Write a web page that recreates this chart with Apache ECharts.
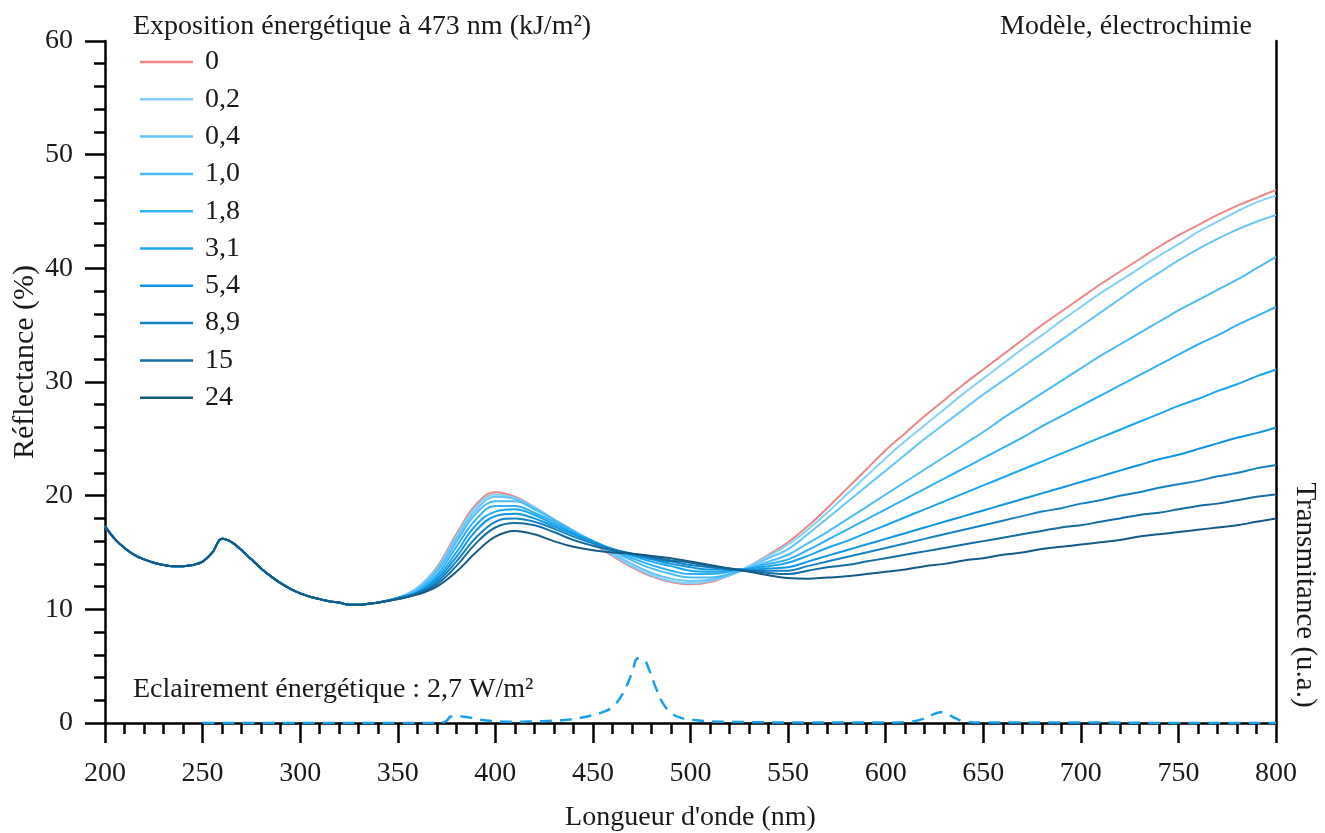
<!DOCTYPE html>
<html><head><meta charset="utf-8">
<script src="https://cdn.jsdelivr.net/npm/echarts@6/dist/echarts.min.js"></script>
<style>html,body{margin:0;padding:0;background:#fff}#c{width:1325px;height:833px}</style>
</head><body><div id="c"></div>
<script>
// Wavelengths (nm): 200..340 step 5, then 350..800 step 10
const wavelengths = [200,205,210,215,220,225,230,235,240,245,250,255,260,265,270,275,280,285,290,295,300,305,310,315,320,325,330,335,340,
  350,360,370,380,390,400,410,420,430,440,450,460,470,480,490,500,510,520,530,540,550,
  560,570,580,590,600,610,620,630,640,650,660,670,680,690,700,710,720,730,740,750,760,770,780,790,800];

// Shared UV part (200..340 nm), identical for all exposures
const uvCommon = [17.3,16.2,15.4,14.8,14.4,14.1,13.9,13.8,13.8,13.9,14.2,15.0,16.2,15.9,15.2,14.4,13.6,12.9,12.3,11.8,11.4,11.1,10.9,10.7,10.6,10.4,10.4,10.5,10.6];

// Reflectance (%) 350..800 nm for each exposure
const r0  = [11.0,11.9,13.7,16.6,19.2,20.3,19.9,19.0,17.9,16.9,15.8,14.7,13.7,12.9,12.4,12.2,12.4,13.0,13.8,14.8,15.9, 17.3,18.9,20.6,22.3,24.0,25.5,27.0,28.4,29.8,31.1,32.4,33.7,35.0,36.2,37.4,38.6,39.7,40.8,41.9,42.9,43.8,44.7,45.5,46.2,46.9];
const r02 = [11.0,11.9,13.6,16.4,19.0,20.1,19.8,19.0,17.9,16.9,15.9,14.8,13.8,13.0,12.5,12.3,12.5,13.0,13.8,14.7,15.7, 17.0,18.5,20.1,21.7,23.3,24.8,26.2,27.6,29.0,30.3,31.6,32.9,34.1,35.4,36.6,37.8,38.9,40.0,41.1,42.1,43.2,44.1,45.0,45.8,46.4];
const r04 = [11.0,11.8,13.5,16.2,18.7,19.9,19.7,18.9,17.9,16.9,15.9,14.9,14.0,13.2,12.7,12.5,12.6,13.0,13.7,14.5,15.3, 16.6,18.0,19.4,20.8,22.2,23.6,25.0,26.3,27.6,28.9,30.1,31.3,32.5,33.7,34.9,36.1,37.3,38.5,39.6,40.7,41.7,42.6,43.4,44.1,44.7];
const r10 = [11.0,11.7,13.3,15.9,18.4,19.5,19.5,18.8,17.9,16.9,16.0,15.1,14.3,13.6,13.1,12.8,12.8,13.1,13.6,14.2,14.8, 15.8,16.8,17.9,19.0,20.1,21.2,22.3,23.4,24.5,25.6,26.8,27.9,29.0,30.1,31.2,32.3,33.3,34.3,35.3,36.3,37.2,38.1,39.0,40.0,41.0];
const r18 = [11.0,11.6,13.0,15.5,17.9,19.1,19.1,18.5,17.7,16.8,16.0,15.2,14.5,13.9,13.4,13.1,13.1,13.3,13.6,14.0,14.4, 15.2,16.1,17.0,17.9,18.8,19.7,20.6,21.5,22.4,23.3,24.2,25.1,26.1,27.0,27.9,28.8,29.7,30.6,31.5,32.4,33.3,34.1,35.0,35.8,36.6];
const r31 = [11.0,11.5,12.8,15.0,17.4,18.6,18.8,18.3,17.5,16.7,16.0,15.3,14.7,14.2,13.8,13.4,13.3,13.4,13.6,13.8,14.1, 14.7,15.4,16.0,16.7,17.4,18.1,18.8,19.5,20.2,20.9,21.6,22.3,23.0,23.7,24.4,25.1,25.8,26.5,27.2,27.9,28.5,29.2,29.8,30.5,31.1];
const r54 = [11.0,11.5,12.6,14.6,16.9,18.2,18.4,18.0,17.3,16.6,15.9,15.3,14.8,14.4,14.0,13.7,13.5,13.5,13.5,13.6,13.7, 14.2,14.7,15.2,15.7,16.2,16.7,17.2,17.7,18.2,18.7,19.2,19.7,20.2,20.7,21.2,21.7,22.2,22.7,23.2,23.6,24.1,24.6,25.1,25.5,26.0];
const r89 = [10.9,11.4,12.4,14.2,16.3,17.7,18.0,17.7,17.1,16.4,15.8,15.3,14.9,14.5,14.2,13.9,13.7,13.5,13.4,13.4,13.4, 13.8,14.2,14.6,15.0,15.4,15.8,16.2,16.6,17.0,17.4,17.8,18.2,18.6,18.9,19.3,19.6,20.0,20.3,20.7,21.0,21.3,21.7,22.0,22.4,22.7];
const r15 = [10.9,11.4,12.2,13.8,15.8,17.2,17.6,17.4,16.8,16.1,15.6,15.2,14.9,14.6,14.3,14.1,13.8,13.6,13.4,13.2,13.1, 13.4,13.7,13.9,14.2,14.5,14.8,15.1,15.4,15.7,16.0,16.3,16.6,16.9,17.2,17.4,17.7,18.0,18.3,18.5,18.8,19.1,19.3,19.6,19.9,20.1];
const r24 = [10.9,11.3,12.0,13.3,15.0,16.4,16.9,16.6,16.0,15.5,15.2,15.0,14.9,14.7,14.5,14.2,13.9,13.6,13.3,13.0,12.75, 12.7,12.8,12.9,13.1,13.3,13.5,13.8,14.0,14.3,14.5,14.8,15.0,15.3,15.5,15.7,15.9,16.1,16.4,16.6,16.8,17.0,17.2,17.4,17.7,18.0];

const exposureNames = ['0','0,2','0,4','1,0','1,8','3,1','5,4','8,9','15','24'];
const reflectance = [r0,r02,r04,r10,r18,r31,r54,r89,r15,r24];
const colors = ['#ee8686','#84d0fb','#66c5f9','#4cbbf8','#33b0f6','#1aa6f3','#0f95e2','#1682c4','#166da2','#155b86'];

// Illumination transmittance (arbitrary units, drawn on the right axis)
const tWl  = [250,300,350,372,375,377,380,384,388,392,400,410,420,430,440,445,450,455,460,465,470,473,476,479,482,486,490,495,500,510,520,550,600,612,618,623,628,632,636,640,650,700,750,800];
const tVal = [0,0,0,0,0.2,0.55,0.6,0.55,0.45,0.3,0.15,0.1,0.15,0.2,0.35,0.5,0.7,0.95,1.4,2.5,4.4,5.7,5.6,4.6,3.2,1.7,0.9,0.45,0.3,0.15,0.1,0.05,0.05,0.1,0.3,0.65,0.95,0.75,0.4,0.15,0.05,0.05,0,0];

const FONT = 'Liberation Serif';
const TXT = '#1a1a1a';
const chart = echarts.init(document.getElementById('c'));

const series = reflectance.map((vals, i) => ({
  name: exposureNames[i],
  type: 'line',
  yAxisIndex: 0,
  symbol: 'none',
  smooth: 0.4,
  animation: false,
  z: 2 + i,
  data: wavelengths.map((w, k) => [w, k < uvCommon.length ? uvCommon[k] : vals[k - uvCommon.length]]),
  lineStyle: { width: 2, color: colors[i] },
  itemStyle: { color: colors[i] }
}));
series.push({
  name: 'Transmitance',
  type: 'line',
  yAxisIndex: 1,
  symbol: 'none',
  smooth: 0.4,
  animation: false,
  z: 1,
  data: tWl.map((w, k) => [w, tVal[k]]),
  lineStyle: { width: 2.5, color: '#1a9fec', type: [12, 8] },
  itemStyle: { color: '#1a9fec' }
});

chart.setOption({
  backgroundColor: '#fff',
  animation: false,
  textStyle: { fontFamily: FONT, color: TXT },
  grid: { left: 105, right: 49, top: 41, bottom: 110, containLabel: false, outerBoundsMode: 'none' },
  legend: {
    data: exposureNames,
    orient: 'vertical',
    left: 135, top: 43,
    itemWidth: 53, itemHeight: 2.5,
    itemGap: 9.3,
    icon: 'path://M0,0H53V2.5H0Z',
    textStyle: { fontFamily: FONT, fontSize: 28, color: TXT, lineHeight: 28, padding: [0,0,0,7] }
  },
  xAxis: {
    type: 'value', min: 200, max: 800, interval: 50,
    name: "Longueur d'onde (nm)", nameLocation: 'middle', nameGap: 81,
    nameTextStyle: { fontFamily: FONT, fontSize: 28, color: TXT },
    axisLine: { show: true, onZero: false, lineStyle: { color: '#000', width: 2.5 } },
    axisTick: { show: true, inside: false, length: 20, lineStyle: { color: '#000', width: 2.5 } },
    minorTick: { show: true, splitNumber: 5, length: 11, lineStyle: { color: '#000', width: 2.5 } },
    axisLabel: { fontFamily: FONT, fontSize: 28, color: TXT, margin: 37 },
    splitLine: { show: false }
  },
  yAxis: [{
    type: 'value', min: 0, max: 60, interval: 10, position: 'left',
    axisLine: { show: true, lineStyle: { color: '#000', width: 2.5 } },
    axisTick: { show: true, inside: false, length: 20, lineStyle: { color: '#000', width: 2.5 } },
    minorTick: { show: true, splitNumber: 5, length: 11, lineStyle: { color: '#000', width: 2.5 } },
    axisLabel: { fontFamily: FONT, fontSize: 28, color: TXT, margin: 32 },
    splitLine: { show: false }
  }, {
    type: 'value', min: 0, max: 60, interval: 10, position: 'right',
    axisLine: { show: true, lineStyle: { color: '#000', width: 2.5 } },
    axisTick: { show: false }, axisLabel: { show: false }, splitLine: { show: false }
  }],
  graphic: [
    { type: 'text', left: 133, top: 13, style: { text: 'Exposition énergétique à 473 nm (kJ/m²)', font: '28px "Liberation Serif"', fill: TXT } },
    { type: 'text', right: 73, top: 13, style: { text: 'Modèle, électrochimie', font: '28px "Liberation Serif"', fill: TXT } },
    { type: 'text', left: 133, top: 676, style: { text: 'Eclairement énergétique : 2,7 W/m²', font: '28px "Liberation Serif"', fill: TXT } },
    { type: 'text', x: 25, y: 362, rotation: Math.PI / 2, style: { text: 'Réflectance (%)', font: '30px "Liberation Serif"', fill: TXT, align: 'center', verticalAlign: 'middle' } },
    { type: 'text', x: 1305, y: 595, rotation: -Math.PI / 2, style: { text: 'Transmitance (u.a.)', font: '29px "Liberation Serif"', fill: TXT, align: 'center', verticalAlign: 'middle' } }
  ],
  series: series
});
</script></body></html>
